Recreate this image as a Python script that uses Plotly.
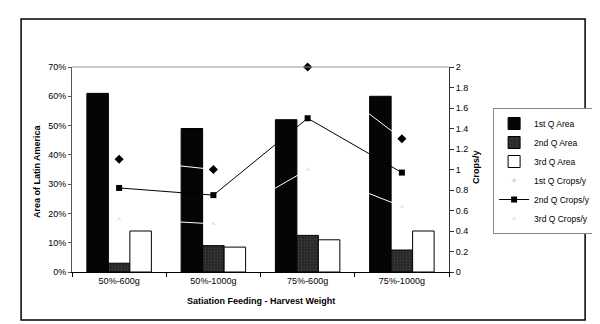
import plotly.graph_objects as go

categories = ["50%-600g", "50%-1000g", "75%-600g", "75%-1000g"]
area_q1 = [0.61, 0.49, 0.52, 0.60]
area_q2 = [0.03, 0.09, 0.125, 0.075]
area_q3 = [0.14, 0.085, 0.11, 0.14]
crops_q1 = [1.1, 1.0, 2.0, 1.3]
crops_q2 = [0.82, 0.75, 1.5, 0.97]
crops_q3 = [0.52, 0.47, 1.0, 0.64]
left_ticks = [0, 0.1, 0.2, 0.3, 0.4, 0.5, 0.6, 0.7]
right_ticks = [0, 0.2, 0.4, 0.6, 0.8, 1, 1.2, 1.4, 1.6, 1.8, 2]

FONT = "Liberation Sans, Arial, sans-serif"

fig = go.Figure()
fig.add_trace(go.Bar(x=categories, y=area_q1, name="1st Q Area",
                     marker=dict(color="#050505", line=dict(color="black", width=1))))
fig.add_trace(go.Bar(x=categories, y=area_q2, name="2nd Q Area",
                     marker=dict(color="#262626", line=dict(color="black", width=1),
                                 pattern=dict(shape=".", fgcolor="#555555", size=3, solidity=0.3))))
fig.add_trace(go.Bar(x=categories, y=area_q3, name="3rd Q Area",
                     marker=dict(color="white", line=dict(color="black", width=1))))

# 1st Q crops: black diamonds joined by a white line
fig.add_trace(go.Scatter(x=categories, y=crops_q1, yaxis="y2", mode="lines+markers",
                         name="1st Q Crops/y", legendgroup="q1", showlegend=False,
                         cliponaxis=False,
                         line=dict(color="white", width=1),
                         marker=dict(symbol="diamond", size=7, color="black")))
fig.add_trace(go.Scatter(x=[None], y=[None], yaxis="y2", mode="markers",
                         name="1st Q Crops/y", legendgroup="q1",
                         marker=dict(symbol="diamond", size=4, color="#dddddd")))
fig.add_trace(go.Scatter(x=categories, y=crops_q2, yaxis="y2", mode="lines+markers",
                         name="2nd Q Crops/y", cliponaxis=False,
                         line=dict(color="black", width=1),
                         marker=dict(symbol="square", size=6, color="black")))
fig.add_trace(go.Scatter(x=categories, y=crops_q3, yaxis="y2", mode="lines+markers",
                         name="3rd Q Crops/y",
                         line=dict(color="white", width=1),
                         marker=dict(symbol="triangle-up", size=4, color="#e2e2e2")))

fig.update_layout(
    width=600, height=324,
    margin=dict(l=64, r=151, t=59, b=60),
    paper_bgcolor="white", plot_bgcolor="white",
    font=dict(family=FONT, size=9, color="black"),
    barmode="group", bargap=0.316, bargroupgap=0,
    showlegend=True,
    legend=dict(x=1.117, y=0.80, xanchor="left", yanchor="top",
                bordercolor="#888888", borderwidth=1, bgcolor="white",
                font=dict(family=FONT, size=8.5), traceorder="normal",
                tracegroupgap=0, itemwidth=30),
    xaxis=dict(type="category", range=[-0.5, 3.5], showline=True, linecolor="black",
               linewidth=1, ticks="outside", ticklen=4, tickson="boundaries",
               tickcolor="black", showgrid=False, tickfont=dict(size=9)),
    yaxis=dict(range=[0, 0.7], tickvals=left_ticks, tickformat=".0%", showline=True,
               linecolor="#555555", linewidth=1, ticks="outside", ticklen=3,
               tickcolor="#555555", showgrid=False, zeroline=False, tickfont=dict(size=9)),
    yaxis2=dict(range=[0, 2], tickvals=right_ticks, overlaying="y", side="right",
                showline=True, linecolor="#333333", linewidth=1, ticks="outside",
                ticklen=4, tickcolor="#333333", showgrid=False, zeroline=False,
                tickfont=dict(size=9)),
    shapes=[
        dict(type="line", xref="paper", yref="paper", x0=0, x1=1, y0=1, y1=1,
             line=dict(color="#999999", width=1)),
        dict(type="rect", xref="paper", yref="paper", x0=-0.135, x1=1.361,
             y0=-0.234, y1=1.234, line=dict(color="black", width=1.5)),
    ],
    annotations=[
        dict(text="<b>Area of Latin America</b>", xref="paper", yref="paper",
             x=-0.094, y=0.49, textangle=-90, showarrow=False,
             font=dict(size=9, family=FONT), xanchor="center", yanchor="middle"),
        dict(text="<b>Crops/y</b>", xref="paper", yref="paper",
             x=1.073, y=0.51, textangle=-90, showarrow=False,
             font=dict(size=9, family=FONT), xanchor="center", yanchor="middle"),
        dict(text="<b>Satiation Feeding - Harvest Weight</b>", xref="paper", yref="paper",
             x=0.5, y=-0.141, showarrow=False, font=dict(size=9, family=FONT),
             xanchor="center", yanchor="middle"),
    ],
)

fig.write_html("out.html")
